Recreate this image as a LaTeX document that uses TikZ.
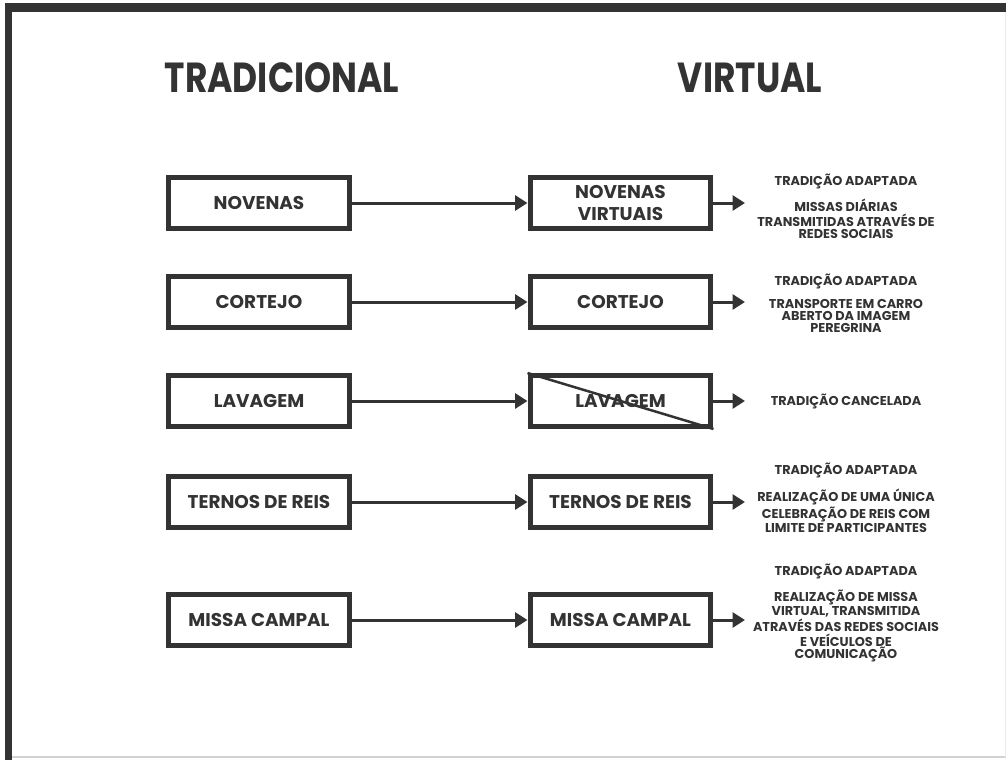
\documentclass[tikz,border=0pt]{standalone}
\usepackage{fontspec}
\setmainfont{Poppins}
\usetikzlibrary{arrows.meta}
\definecolor{ink}{HTML}{333333}
\newcommand\tall[1]{\scalebox{1}[1.22]{#1}}
\tikzset{
  box/.style={draw=ink, line width=0.1cm, minimum width=3.62cm, minimum height=1.02cm,
    align=center, font=\bfseries\fontsize{10.5}{12}\selectfont},
  note/.style={align=center, font=\bfseries\fontsize{7.3}{6.9}\selectfont},
  title/.style={font=\bfseries\fontsize{19.6}{24}\selectfont},
  link/.style={draw=ink, line width=0.06cm, -{Triangle[length=0.25cm,width=0.3cm]}}
}

\begin{document}
\begin{tikzpicture}[x=0.02cm,y=-0.02cm,every node/.style={text=ink}]
	%% frame
	\useasboundingbox (0,0) rectangle (1006,760);
	\fill[ink] (5,3) rectangle (1006,12);
	\fill[ink] (5,3) rectangle (12,760);
	\draw[gray!35, line width=0.04cm] (12,757) -- (1006,757);
	\draw[gray!15] (1005,12) -- (1005,757);

	\def\xL{259} % left column
	\def\xR{620.5} % right column
	\def\xN{846} % notes

	% titles
	\node[title] (tradicional) at (282,78) {\tall{TRADICIONAL}};
	\node[title] (virtual) at (750,78) {\tall{VIRTUAL}};

	% left boxes
	\node[box] (novenas) at (\xL,203) {NOVENAS};
	\node[box] (cortejo) at (\xL,302) {CORTEJO};
	\node[box] (lavagem) at (\xL,401) {LAVAGEM};
	\node[box] (ternos) at (\xL,502) {TERNOS DE REIS};
	\node[box] (missa) at (\xL,620) {MISSA CAMPAL};

	% right boxes
	\node[box] (novenasV) at (\xR,203) {NOVENAS\\VIRTUAIS};
	\node[box] (cortejoV) at (\xR,302) {CORTEJO};
	\node[box] (lavagemV) at (\xR,401) {LAVAGEM};
	\node[box] (ternosV) at (\xR,502) {TERNOS DE REIS};
	\node[box] (missaV) at (\xR,620) {MISSA CAMPAL};
	\draw[ink, line width=0.05cm] (lavagemV.north west) -- (lavagemV.south east);

	\draw[link] (novenas) -- (novenasV);
	\draw[link] (cortejo) -- (cortejoV);
	\draw[link] (lavagem) -- (lavagemV);
	\draw[link] (ternos) -- (ternosV);
	\draw[link] (missa) -- (missaV);

	% short arrows
	\coordinate (e1) at (745,203);
	\coordinate (e2) at (745,302);
	\coordinate (e3) at (745,401);
	\coordinate (e4) at (745,502);
	\coordinate (e5) at (745,620);
	\draw[link] (novenasV) -- (e1);
	\draw[link] (cortejoV) -- (e2);
	\draw[link] (lavagemV) -- (e3);
	\draw[link] (ternosV) -- (e4);
	\draw[link] (missaV) -- (e5);

	% notes
	\node[note] (n1) at (\xN,206) {TRADIÇÃO ADAPTADA\\[5pt]MISSAS DIÁRIAS\\TRANSMITIDAS ATRAVÉS DE\\REDES SOCIAIS};
	\node[note] (n2) at (\xN,303) {TRADIÇÃO ADAPTADA\\[5pt]TRANSPORTE EM CARRO\\ABERTO DA IMAGEM\\PEREGRINA};
	\node[note] (n3) at (\xN,401) {TRADIÇÃO CANCELADA};
	\node[note] (n4) at (\xN,498) {TRADIÇÃO ADAPTADA\\[5pt]REALIZAÇÃO DE UMA ÚNICA\\CELEBRAÇÃO DE REIS COM\\LIMITE DE PARTICIPANTES};
	\node[note] (n5) at (\xN,613) {TRADIÇÃO ADAPTADA\\[5pt]REALIZAÇÃO DE MISSA\\VIRTUAL, TRANSMITIDA\\ATRAVÉS DAS REDES SOCIAIS\\E VEÍCULOS DE\\COMUNICAÇÃO};
\end{tikzpicture}
\end{document}
